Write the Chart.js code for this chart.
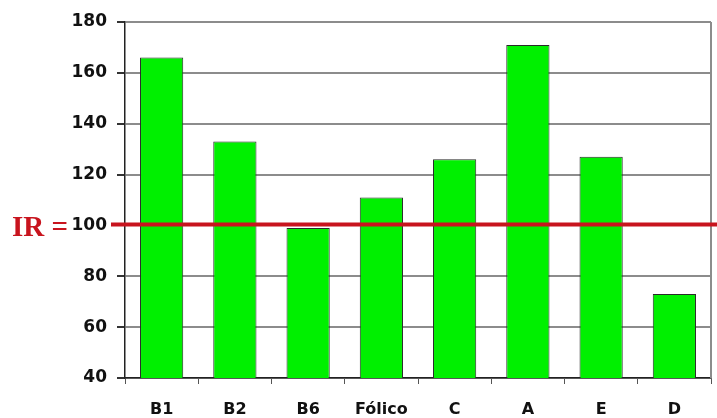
<!DOCTYPE html>
<html>
<head>
<meta charset="utf-8">
<script src="https://cdn.jsdelivr.net/npm/chart.js@4/dist/chart.umd.min.js"></script>
<style>
  html, body { margin: 0; padding: 0; background: #ffffff; }
  #wrap { width: 717px; height: 418px; }
</style>
</head>
<body>
<div id="wrap"><canvas id="c" width="717" height="418"></canvas></div>
<script>
// Vitamin intake per vitamin, relative to the reference intake (IR = 100)
const categories = ['B1', 'B2', 'B6', 'Fólico', 'C', 'A', 'E', 'D'];
const intakeValues = [166, 133, 99, 111, 126, 171, 127, 73];
const yTicks = [40, 60, 80, 100, 120, 140, 160, 180];
const referenceIntake = 100;
const referenceLabel = 'IR =';

// Red reference line with its label, plus the frame on the right edge
const referencePlugin = {
  id: 'referenceLine',
  afterDatasetsDraw(chart) {
    const { ctx, chartArea, scales } = chart;
    const y = scales.y.getPixelForValue(referenceIntake);
    ctx.save();
    ctx.strokeStyle = '#8c8c8c';
    ctx.lineWidth = 2;
    ctx.beginPath();
    ctx.moveTo(chartArea.right, chartArea.top);
    ctx.lineTo(chartArea.right, chartArea.bottom);
    ctx.stroke();

    ctx.strokeStyle = '#c8141e';
    ctx.lineWidth = 4;
    ctx.beginPath();
    ctx.moveTo(chartArea.left - 14, y - 1);
    ctx.lineTo(chart.width, y - 1);
    ctx.stroke();

    ctx.fillStyle = '#c8141e';
    ctx.font = 'bold 29px "Liberation Serif"';
    ctx.textAlign = 'left';
    ctx.textBaseline = 'middle';
    ctx.fillText(referenceLabel, 12, y + 3);
    ctx.restore();
  }
};

new Chart(document.getElementById('c'), {
  type: 'bar',
  data: {
    labels: categories,
    datasets: [{
      data: intakeValues,
      backgroundColor: '#00f000',
      borderColor: '#2a2a2a',
      borderWidth: 1,
      barPercentage: 0.59,
      categoryPercentage: 1.0
    }]
  },
  options: {
    responsive: false,
    animation: false,
    layout: { padding: { left: 0, right: 6, top: 22, bottom: 0 } },
    plugins: {
      legend: { display: false },
      tooltip: { enabled: false }
    },
    scales: {
      x: {
        grid: {
          offset: true,
          drawOnChartArea: false,
          drawTicks: true,
          tickLength: 6,
          color: '#555555',
          lineWidth: 1
        },
        border: { color: '#222222', width: 1.5 },
        ticks: {
          font: { family: 'DejaVu Sans', weight: 'bold', size: 16 },
          color: '#111111',
          padding: 16
        },
        afterFit(scale) { scale.height = 40; }
      },
      y: {
        min: 40,
        max: 180,
        afterBuildTicks(scale) { scale.ticks = yTicks.map(v => ({ value: v })); },
        grid: {
          color: '#8c8c8c',
          lineWidth: 2,
          tickLength: 8,
          tickColor: '#333333'
        },
        border: { color: '#222222', width: 1.5 },
        ticks: {
          font: { family: 'DejaVu Sans', weight: 'bold', size: 17 },
          color: '#111111',
          padding: 10
        },
        afterFit(scale) { scale.width = 125; }
      }
    }
  },
  plugins: [referencePlugin]
});
</script>
</body>
</html>
